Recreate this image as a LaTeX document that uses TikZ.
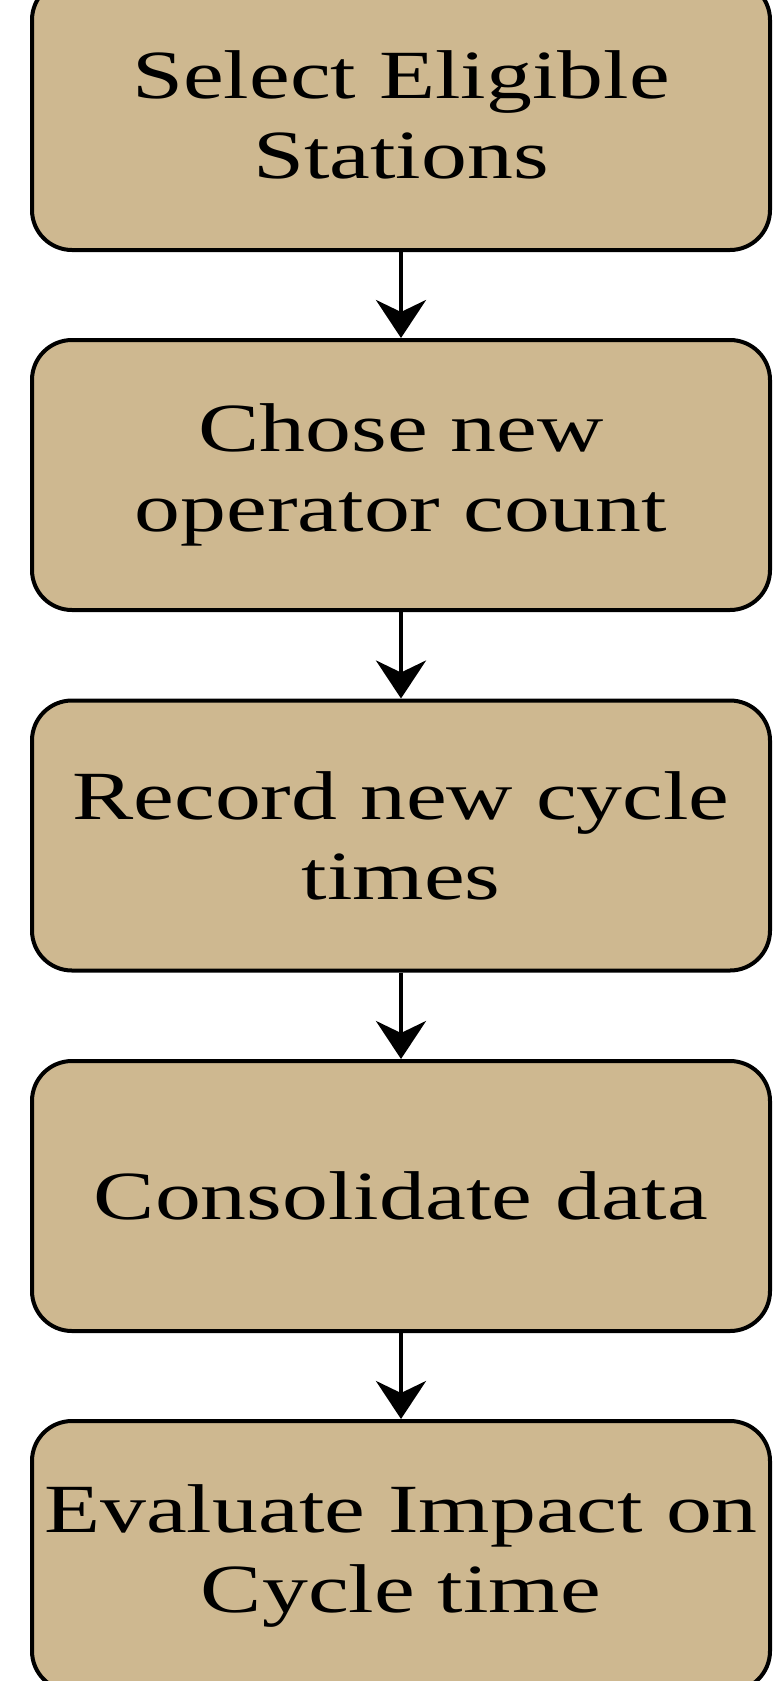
\documentclass[tikz,border=0pt]{standalone}
\usepackage{fontspec}
\setmainfont{Liberation Serif}
\newfontfamily\boxfont[FakeStretch=1.33]{Liberation Serif}
\usetikzlibrary{arrows.meta}
\definecolor{boxtan}{RGB}{206,184,144}
\tikzset{
  stepbox/.style={draw=black, line width=2pt, fill=boxtan, rounded corners=20pt,
    minimum width=369pt, minimum height=135pt, inner sep=0pt, align=center,
    font=\boxfont\fontsize{34.5pt}{40pt}\selectfont},
  flowarrow/.style={draw=black, line width=2pt,
    -{Stealth[length=19pt, width=25pt, inset=6pt]}}
}
\begin{document}
\begin{tikzpicture}[x=0.5pt, y=-0.5pt]
\useasboundingbox (0,0) rectangle (774,1681);
\clip (0,0) rectangle (774,1681);
\node[stepbox] (s1) at (401,115) {Select Eligible\\Stations};
\node[stepbox] (s2) at (401,475) {Chose new\\operator count};
\node[stepbox] (s3) at (401,835.5) {Record new cycle\\times};
\node[stepbox] (s4) at (401,1196) {Consolidate data};
\node[stepbox] (s5) at (401,1556) {Evaluate Impact on\\Cycle time};
\draw[flowarrow] (s1.south) -- (s2.north);
\draw[flowarrow] (s2.south) -- (s3.north);
\draw[flowarrow] (s3.south) -- (s4.north);
\draw[flowarrow] (s4.south) -- (s5.north);
\end{tikzpicture}
\end{document}
